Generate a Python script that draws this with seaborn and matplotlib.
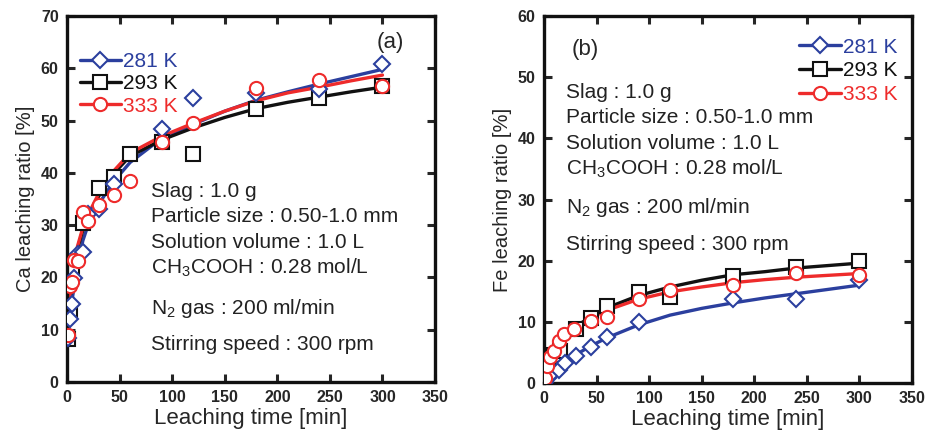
import numpy as np
import pandas as pd
import matplotlib
matplotlib.use("Agg")
import matplotlib.pyplot as plt
from matplotlib.lines import Line2D
from matplotlib import font_manager
import seaborn as sns

# ---------------- data ----------------
temps = ["281 K", "293 K", "333 K"]

# Panel (a): Ca leaching ratio [%]
ca_t_281 = [1, 3, 5, 7, 10, 15, 20, 30, 45, 90, 120, 180, 240, 300]
ca_v_281 = [8.5, 12, 15, 19.8, 24.4, 24.9, 32.1, 33.1, 37.8, 48.4, 54.3, 55.2, 56.0, 60.8]
ca_t_293 = [1, 3, 5, 15, 30, 45, 60, 90, 120, 180, 240, 300]
ca_v_293 = [8.2, 13.8, 21.4, 30.4, 37.2, 39.2, 43.7, 45.9, 43.7, 52.3, 54.4, 56.6]
ca_t_333 = [1, 3, 5, 7, 10, 15, 20, 30, 45, 60, 90, 120, 180, 240, 300]
ca_v_333 = [9.0, 18.4, 19.2, 23.3, 23.1, 32.6, 30.7, 33.9, 35.8, 38.4, 45.9, 49.5, 56.2, 57.8, 56.6]

# fitted curves
curve_t = [0, 1, 3, 5, 10, 15, 20, 30, 45, 60, 90, 120, 150, 180, 210, 240, 270, 300]
ca_fit_281 = [7, 9, 12.5, 16, 22, 27, 30, 34, 38.5, 42, 46.6, 49.3, 51.8, 53.9, 55.5, 57, 58.4, 59.8]
ca_fit_293 = [8, 11, 16, 19.5, 25.5, 29, 31.5, 35.5, 40, 43.2, 46.3, 48.6, 50.6, 52.3, 53.5, 54.5, 55.5, 56.4]
ca_fit_333 = [8, 12, 17, 20.5, 26, 29.5, 32, 36, 40.5, 43.8, 47, 49.5, 51.8, 53.8, 55.3, 56.4, 57.6, 58.7]

# Panel (b): Fe leaching ratio [%]
fe_t_281 = [1, 4, 8, 14, 20, 30, 45, 60, 90, 180, 240, 300]
fe_v_281 = [0.2, 0.9, 1.6, 2.2, 3.2, 4.4, 5.9, 7.6, 9.9, 13.8, 13.7, 16.8]
fe_t_293 = [1, 4, 10, 15, 30, 45, 60, 90, 120, 180, 240, 300]
fe_v_293 = [0.5, 2.4, 4.5, 5.3, 8.9, 10.6, 12.6, 14.8, 14.1, 17.5, 19.0, 19.9]
fe_t_333 = [1, 3, 6, 10, 14, 19, 29, 45, 60, 90, 120, 180, 240, 300]
fe_v_333 = [0.8, 2.7, 4.2, 5.3, 6.8, 8.0, 8.9, 10.2, 10.8, 13.8, 15.2, 16.0, 18.0, 17.7]

fe_fit_281 = [0, 0.3, 0.7, 1.1, 2, 2.8, 3.4, 4.6, 6.1, 7.4, 9.5, 11.1, 12.2, 13.1, 13.9, 14.6, 15.3, 16.0]
fe_fit_293 = [0.3, 1.2, 2.5, 3.5, 5.3, 6.6, 7.6, 9.2, 10.9, 12.3, 14.3, 15.7, 16.8, 17.7, 18.2, 18.8, 19.2, 19.6]
fe_fit_333 = [0.3, 1.2, 2.5, 3.5, 5.3, 6.6, 7.6, 9.1, 10.7, 11.9, 13.7, 14.9, 15.7, 16.4, 16.9, 17.3, 17.6, 17.9]

conditions = ["Slag : 1.0 g",
              "Particle size : 0.50-1.0 mm",
              "Solution volume : 1.0 L",
              "CH$_3$COOH : 0.28 mol/L",
              "N$_2$ gas : 200 ml/min",
              "Stirring speed : 300 rpm"]

x_ticks = [0, 50, 100, 150, 200, 250, 300, 350]

# ---------------- style ----------------
sns.set_style("ticks")
names = {f.name for f in font_manager.fontManager.ttflist}
main_font = "Liberation Sans" if "Liberation Sans" in names else "DejaVu Sans"
narrow_font = "Liberation Sans Narrow" if "Liberation Sans Narrow" in names else main_font
plt.rcParams["font.family"] = [main_font, "DejaVu Sans"]
plt.rcParams["mathtext.default"] = "regular"
plt.rcParams["mathtext.fontset"] = "custom"
plt.rcParams["mathtext.rm"] = main_font

colors = {"281 K": "#2b3f9e", "293 K": "#111111", "333 K": "#ee2b2b"}
markers = {"281 K": "D", "293 K": "s", "333 K": "o"}
msizes = {"281 K": 8.6, "293 K": 10.5, "333 K": 9.5}


def build_points(ts, vs):
    rows = []
    for temp, t, v in zip(temps, ts, vs):
        rows += [{"time": a, "ratio": b, "temp": temp} for a, b in zip(t, v)]
    return pd.DataFrame(rows)


def build_curves(fits):
    rows = []
    for temp, f in zip(temps, fits):
        rows += [{"time": a, "ratio": b, "temp": temp} for a, b in zip(curve_t, f)]
    return pd.DataFrame(rows)


fig = plt.figure(figsize=(9.27, 4.34), dpi=100)
ax_a = fig.add_axes([0.0723, 0.1198, 0.397, 0.8433])
ax_b = fig.add_axes([0.5868, 0.1175, 0.397, 0.8456])

panels = [
    (ax_a, build_points([ca_t_281, ca_t_293, ca_t_333], [ca_v_281, ca_v_293, ca_v_333]),
     build_curves([ca_fit_281, ca_fit_293, ca_fit_333]), 70, "Ca leaching ratio [%]"),
    (ax_b, build_points([fe_t_281, fe_t_293, fe_t_333], [fe_v_281, fe_v_293, fe_v_333]),
     build_curves([fe_fit_281, fe_fit_293, fe_fit_333]), 60, "Fe leaching ratio [%]"),
]

for ax, pts, cur, ymax, ylab in panels:
    for temp in temps:
        sns.lineplot(data=cur[cur.temp == temp], x="time", y="ratio", ax=ax,
                     color=colors[temp], lw=2.4, sort=True, legend=False,
                     zorder=2, estimator=None)
    for temp in temps:
        d = pts[pts.temp == temp]
        ax.plot(d.time, d.ratio, ls="none", marker=markers[temp],
                ms=msizes[temp], mfc="white", mec=colors[temp], mew=1.5,
                zorder=3 if temp != "293 K" else 2.5)
    ax.set_xlim(0, 350)
    ax.set_ylim(0, ymax)
    ax.set_xticks(x_ticks)
    ax.set_yticks(np.arange(0, ymax + 1, 10))
    ax.tick_params(direction="in", length=6, width=2.2, top=True, right=True,
                   labelsize=11.5, pad=6)
    for lab in ax.get_xticklabels() + ax.get_yticklabels():
        lab.set_fontfamily(narrow_font)
        lab.set_fontweight("bold")
    for s in ax.spines.values():
        s.set_linewidth(2.4)
        s.set_color("#111111")
    ax.set_xlabel("Leaching time [min]", fontsize=16, fontfamily=narrow_font, labelpad=2)
    ax.set_ylabel(ylab, fontsize=14.5, labelpad=4)

# condition texts
ys_a = [0.5063, 0.438, 0.3653, 0.2951, 0.1866, 0.0866]
ys_b = [0.7757, 0.7084, 0.6376, 0.5668, 0.4632, 0.3624]
for txt, y in zip(conditions, ys_a):
    ax_a.text(0.2275, y, txt, transform=ax_a.transAxes, fontsize=15, va="baseline",
              color="#222222")
for txt, y in zip(conditions, ys_b):
    ax_b.text(0.0598, y, txt, transform=ax_b.transAxes, fontsize=15, va="baseline",
              color="#222222")

ax_a.text(0.8416, 0.9117, "(a)", transform=ax_a.transAxes, fontsize=16, va="baseline")
ax_b.text(0.0754, 0.8937, "(b)", transform=ax_b.transAxes, fontsize=16, va="baseline")

handles = [Line2D([0], [0], color=colors[t], lw=2.4, marker=markers[t], ms=msizes[t],
                  mfc="white", mec=colors[t], mew=1.5) for t in temps]
leg_a = ax_a.legend(handles, temps, loc="upper left", bbox_to_anchor=(0.0, 0.935),
                    frameon=False, fontsize=15, handlelength=2.0, handletextpad=0.1,
                    labelspacing=0.15, borderaxespad=0.2)
leg_b = ax_b.legend(handles, temps, loc="upper right", bbox_to_anchor=(0.995, 0.975),
                    frameon=False, fontsize=15, handlelength=2.0, handletextpad=0.1,
                    labelspacing=0.22, borderaxespad=0.2)
for leg in (leg_a, leg_b):
    for txt, t in zip(leg.get_texts(), temps):
        txt.set_color(colors[t])

fig.savefig("out.png", dpi=100)
